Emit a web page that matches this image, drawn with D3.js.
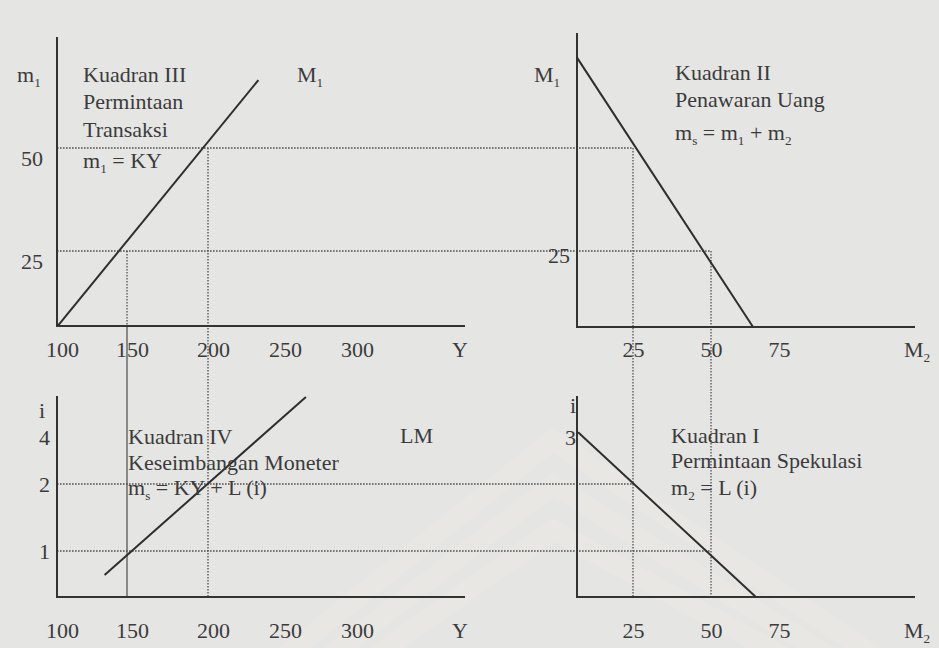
<!DOCTYPE html>
<html>
<head>
<meta charset="UTF-8">
<title>Kuadran Keseimbangan Moneter</title>
<script src="https://cdn.jsdelivr.net/npm/d3@7"></script>
<style>
  body { margin: 0; background: #e5e5e4; }
  svg { display: block; }
  text { font-family: "Liberation Serif", "Times New Roman", serif; fill: #3b3b3b; }
</style>
</head>
<body>
<svg id="chart" width="939" height="648"></svg>
<script>
// tick labels of each quadrant
const yTicks = [100, 150, 200, 250, 300];
const m1Ticks = [25, 50];
const m1TicksII = [25];
const m2Ticks = [25, 50, 75];
const iTicksIV = [1, 2, 4];
const iTicksI = [3];

// curves, end points as [x value, y value]
const ky = [[101, 7], [235, 66.5]];      // Y, m1  - Kuadran III
const supply = [[7, 72], [65.4, 6.6]];   // M2, M1 - Kuadran II
const lm = [[134, 0.48], [268, 5.7]];    // Y, i   - Kuadran IV
const spec = [[7.4, 3.1], [66.5, 0]];    // M2, i  - Kuadran I

// the two equilibria traced round the four quadrants
const eqY = [150, 200];
const eqM1 = [25, 50];
const eqM2 = [50, 25];
const eqI = [1, 2];

const svg = d3.select('#chart');
const fontSize = 22;

// the sketch is hand drawn, so the scales are piecewise
const x = d3.scaleLinear().domain([100, 150, 200, 300]).range([57, 127, 208, 352]);
const xm = d3.scaleLinear().domain([25, 50, 75]).range([633, 711, 779]);
const ym = d3.scaleLinear().domain([25, 50]).range([251, 148]);
const yi4 = d3.scaleLinear().domain([0, 1, 2, 4]).range([597, 551, 484, 437]);
const yi1 = d3.scaleLinear().domain([0, 1, 2, 3]).range([597, 551, 484, 437]);

const topY = 326, botY = 597;   // the two horizontal axes
const leftX = x(100), rightX = 577;

// faint watermark of the scan
const wm = svg.append('g').attr('fill', 'none').attr('stroke', '#eae9e4').attr('stroke-width', 20).attr('opacity', 0.7);
[0, 45, 90].forEach(o => {
  wm.append('path').attr('d', `M${280 + o},660 L${553},${440 + o} L${880 - o},660`);
});

// guide lines
const dotted = svg.append('g').attr('stroke', '#505050').attr('stroke-width', 1.3).attr('stroke-dasharray', '1.6 1.4').attr('fill', 'none');
eqY.forEach((v, k) => {
  dotted.append('line').attr('x1', leftX).attr('x2', xm(eqM2[k])).attr('y1', ym(eqM1[k])).attr('y2', ym(eqM1[k]));
  dotted.append('line').attr('x1', leftX).attr('x2', xm(eqM2[k])).attr('y1', yi4(eqI[k])).attr('y2', yi4(eqI[k]));
  dotted.append('line').attr('x1', x(v)).attr('x2', x(v)).attr('y1', ym(eqM1[k])).attr('y2', k === 0 ? topY : botY);
  dotted.append('line').attr('x1', xm(eqM2[k])).attr('x2', xm(eqM2[k])).attr('y1', ym(eqM1[k])).attr('y2', botY);
});
svg.append('line').attr('x1', x(eqY[0])).attr('x2', x(eqY[0])).attr('y1', topY).attr('y2', botY)
  .attr('stroke', '#4a4a4a').attr('stroke-width', 1.2);

// axes
const axes = svg.append('g').attr('stroke', '#333').attr('stroke-width', 2).attr('fill', 'none');
[
  [leftX, 37, leftX, topY, 465, topY],
  [rightX, 33, rightX, topY + 1, 915, topY + 1],
  [leftX, 396, leftX, botY, 465, botY],
  [rightX, 396, rightX, botY, 915, botY]
].forEach(p => axes.append('path').attr('d', `M${p[0]},${p[1]}L${p[2]},${p[3]}L${p[4]},${p[5]}`));

// curves
const curves = svg.append('g').attr('stroke', '#2e2e2e').attr('stroke-width', 2).attr('fill', 'none');
curves.append('path').attr('d', d3.line().x(d => x(d[0])).y(d => ym(d[1]))(ky));
curves.append('path').attr('d', d3.line().x(d => xm(d[0])).y(d => ym(d[1]))(supply));
curves.append('path').attr('d', d3.line().x(d => x(d[0])).y(d => yi4(d[1]))(lm));
curves.append('path').attr('d', d3.line().x(d => xm(d[0])).y(d => yi1(d[1]))(spec));

// tick labels (no tick marks in the sketch)
function ticks(axis, tx, ty, pad, dx, dy)
{
  const g = svg.append('g').attr('transform', `translate(${tx},${ty})`)
    .call(axis.tickSize(0).tickPadding(pad).tickFormat(d3.format('d')))
    .call(a => a.select('.domain').remove())
    .attr('font-family', null).attr('font-size', fontSize);
  g.selectAll('text').attr('dx', dx);
  if (dy) g.selectAll('text').attr('dy', dy);
}
ticks(d3.axisBottom(x).tickValues(yTicks), 0, topY, 15, 5);
ticks(d3.axisBottom(x).tickValues(yTicks), 0, botY, 25, 5);
ticks(d3.axisBottom(xm).tickValues(m2Ticks), 0, topY + 1, 14, 0);
ticks(d3.axisBottom(xm).tickValues(m2Ticks), 0, botY, 25, 0);
ticks(d3.axisLeft(ym).tickValues(m1Ticks), leftX, 0, 14, 0, '0.8em');
ticks(d3.axisLeft(ym).tickValues(m1TicksII), rightX, 0, 7, 0, '0.5em');
ticks(d3.axisLeft(yi4).tickValues(iTicksIV), leftX, 0, 7, 0);
ticks(d3.axisLeft(yi1).tickValues(iTicksI), rightX, 0, 1, 0);

// text with "_x" as a subscript
function rich(tx, ty, str, anchor)
{
  const t = svg.append('text').attr('x', tx).attr('y', ty).attr('font-size', fontSize)
    .attr('text-anchor', anchor || 'start');
  let down = false;
  str.split(/_(.)/).forEach((p, k) => {
    if (k % 2) { t.append('tspan').attr('font-size', '0.6em').attr('dy', 5).text(p); down = true; }
    else if (p) { t.append('tspan').attr('dy', down ? -5 : null).text(p); down = false; }
  });
}

// axis names
rich(17, 82, 'm_1');
rich(297, 82, 'M_1');
rich(534, 82, 'M_1');
rich(460, 357, 'Y', 'middle');
rich(460, 638, 'Y', 'middle');
rich(904, 357, 'M_2');
rich(904, 638, 'M_2');
rich(42, 418, 'i', 'middle');
rich(573, 413, 'i', 'middle');

// quadrant notes
[['Kuadran III', 82], ['Permintaan', 109], ['Transaksi', 137], ['m_1 = KY', 168]].forEach(d => rich(83, d[1], d[0]));
[['Kuadran II', 80], ['Penawaran Uang', 107], ['m_s = m_1 + m_2', 140]].forEach(d => rich(675, d[1], d[0]));
[['Kuadran IV', 444], ['Keseimbangan Moneter', 470], ['m_s = KY + L (i)', 495]].forEach(d => rich(128, d[1], d[0]));
[['Kuadran I', 443], ['Permintaan Spekulasi', 468], ['m_2 = L (i)', 495]].forEach(d => rich(671, d[1], d[0]));
rich(400, 443, 'LM');
</script>
</body>
</html>
